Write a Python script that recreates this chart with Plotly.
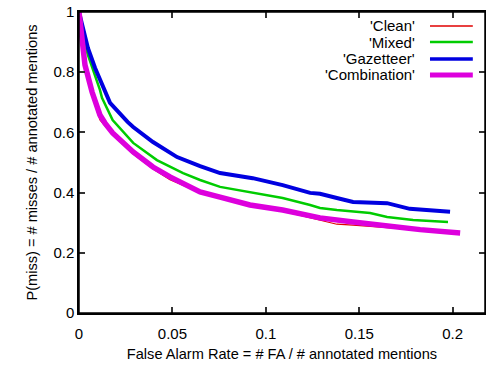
import plotly.graph_objects as go

series_names = ["'Clean'", "'Mixed'", "'Gazetteer'", "'Combination'"]

clean_x = [0, 0.0016, 0.0032, 0.007, 0.0102, 0.0112, 0.0139, 0.018, 0.029, 0.0396, 0.0487, 0.0648, 0.0755, 0.0915, 0.109, 0.127, 0.138, 0.1467, 0.1649, 0.1826, 0.2]
clean_y = [1.0, 0.91, 0.815, 0.725, 0.655, 0.641, 0.622, 0.592, 0.528, 0.478, 0.443, 0.40, 0.383, 0.357, 0.338, 0.312, 0.295, 0.292, 0.283, 0.275, 0.268]

mixed_x = [0, 0.0027, 0.0048, 0.0086, 0.0112, 0.0123, 0.018, 0.029, 0.0417, 0.0557, 0.0648, 0.0755, 0.0915, 0.109, 0.1237, 0.129, 0.138, 0.1558, 0.1649, 0.1788, 0.1975]
mixed_y = [1.0, 0.90, 0.857, 0.79, 0.741, 0.715, 0.641, 0.565, 0.508, 0.465, 0.442, 0.419, 0.402, 0.382, 0.359, 0.349, 0.342, 0.332, 0.319, 0.309, 0.302]

gaz_x = [0, 0.0027, 0.0048, 0.0086, 0.0112, 0.0166, 0.026, 0.029, 0.0396, 0.0525, 0.0648, 0.0755, 0.093, 0.109, 0.1237, 0.129, 0.138, 0.1467, 0.1649, 0.177, 0.1986]
gaz_y = [1.0, 0.93, 0.88, 0.814, 0.774, 0.698, 0.635, 0.618, 0.568, 0.518, 0.488, 0.465, 0.448, 0.425, 0.399, 0.396, 0.382, 0.369, 0.365, 0.346, 0.336]

comb_x = [0, 0.0016, 0.0032, 0.007, 0.0102, 0.0112, 0.0139, 0.018, 0.029, 0.0396, 0.0487, 0.0648, 0.0755, 0.0915, 0.109, 0.127, 0.129, 0.1467, 0.1649, 0.1826, 0.204]
comb_y = [1.0, 0.914, 0.824, 0.734, 0.668, 0.658, 0.631, 0.598, 0.535, 0.485, 0.452, 0.402, 0.385, 0.359, 0.342, 0.319, 0.316, 0.302, 0.288, 0.277, 0.266]

x_ticks = [0, 0.05, 0.1, 0.15, 0.2]
x_tick_labels = ["0", "0.05", "0.1", "0.15", "0.2"]
y_ticks = [0, 0.2, 0.4, 0.6, 0.8, 1]
y_tick_labels = ["0", "0.2", "0.4", "0.6", "0.8", "1"]

colors = ["#e00000", "#00cc00", "#0000e0", "#dd00dd"]
widths = [1.2, 2.5, 4, 5.5]
legend_widths = [1.5, 2.5, 3.5, 5]

xs = [clean_x, mixed_x, gaz_x, comb_x]
ys = [clean_y, mixed_y, gaz_y, comb_y]

FONT = "Liberation Sans, Arial, sans-serif"
X_RANGE = [0, 0.2173]
Y_RANGE = [0, 1]

fig = go.Figure()
for name, x, y, c, w in zip(series_names, xs, ys, colors, widths):
    fig.add_trace(go.Scatter(x=x, y=y, mode="lines", name=name,
                             line=dict(color=c, width=w), showlegend=False))

# gnuplot-style key: text right-aligned, sample line to its right
legend_rows = [0.9535, 0.900, 0.8439, 0.7907]
for name, c, w, yy in zip(series_names, colors, legend_widths, legend_rows):
    fig.add_annotation(xref="paper", yref="paper", x=0.8325, y=yy, text=name,
                       showarrow=False, xanchor="right", yanchor="middle",
                       font=dict(family=FONT, size=15, color="black"))
    fig.add_shape(type="line", xref="paper", yref="paper", x0=0.8645, x1=0.970,
                  y0=yy, y1=yy, line=dict(color=c, width=w))

# plot frame
fig.add_shape(type="rect", xref="paper", yref="paper", x0=0, x1=1, y0=0, y1=1,
              line=dict(color="black", width=1.5), layer="above")

axis_common = dict(showline=True, linecolor="black", linewidth=1.5, mirror="ticks",
                   ticks="inside", ticklen=6, tickwidth=1.5, tickcolor="#333333",
                   showgrid=False, zeroline=False, automargin=False,
                   tickfont=dict(family=FONT, size=15, color="black"))

fig.update_layout(
    xaxis=dict(range=X_RANGE, tickvals=x_ticks, ticktext=x_tick_labels,
               ticklabelstandoff=6,
               title=dict(text="False Alarm Rate = # FA / # annotated mentions",
                          font=dict(family=FONT, size=14.6, color="black"), standoff=8),
               **axis_common),
    yaxis=dict(range=Y_RANGE, tickvals=y_ticks, ticktext=y_tick_labels,
               title=dict(text="P(miss) = # misses / # annotated mentions",
                          font=dict(family=FONT, size=14.6, color="black"), standoff=12),
               **axis_common),
    width=486, height=366, margin=dict(l=79, r=1, t=12, b=53),
    plot_bgcolor="white", paper_bgcolor="white", showlegend=False,
)

fig.write_html("out.html", config={"displayModeBar": False},
               post_script="document.body.style.margin='0';")
